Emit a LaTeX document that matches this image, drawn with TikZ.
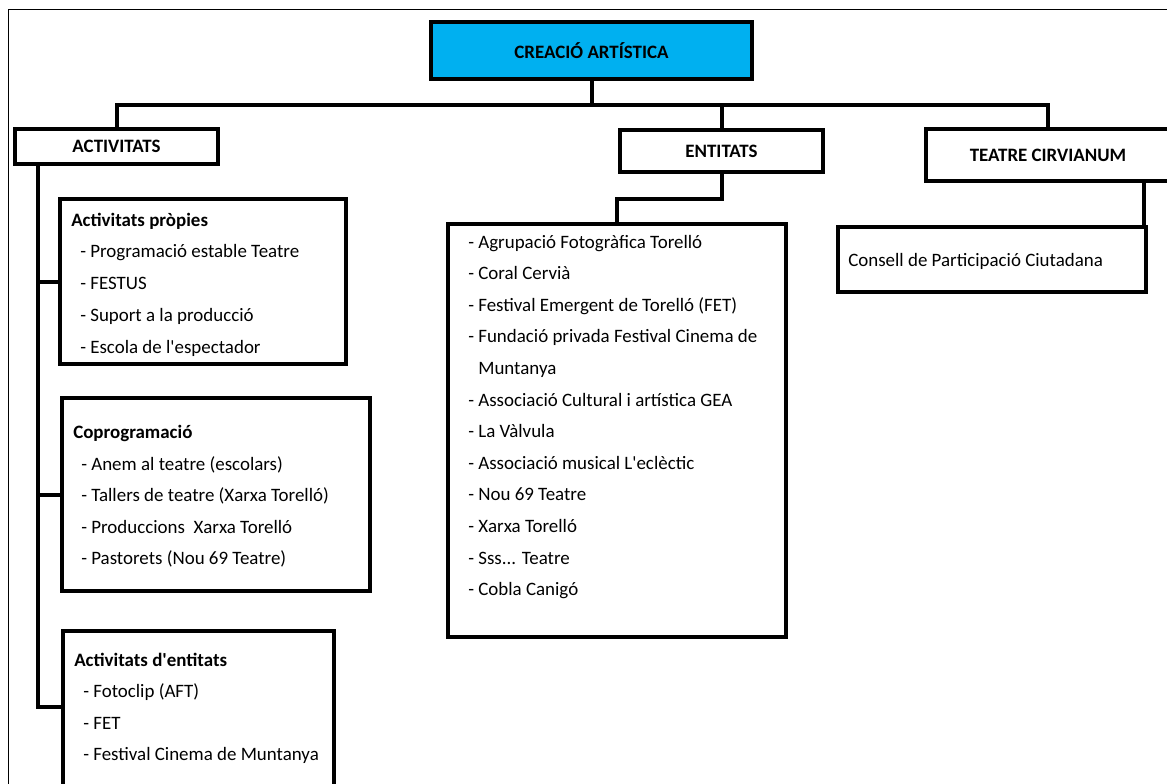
\documentclass[tikz,border=0pt]{standalone}
\usepackage{fontspec}
\setmainfont{Carlito}
\usetikzlibrary{calc, positioning}

\begin{document}
\begin{tikzpicture}[x=0.75pt, y=-0.75pt,
        box/.style={draw, line width=3pt, outer sep=0pt, inner sep=0pt},
        hdr/.style={box, font=\fontsize{14.2pt}{17pt}\selectfont\bfseries},
        conn/.style={line width=3pt},
        item/.style={anchor=base west, inner sep=0pt, font=\fontsize{14.2pt}{17pt}\selectfont},
        ttl/.style={item, font=\fontsize{14.2pt}{17pt}\selectfont\bfseries}]
        % colors
        \definecolor{headBlue}{RGB}{0,176,240}

        \useasboundingbox (0,0) rectangle (1167,783);

        % outer frame
        \draw[line width=0.75pt] (8,800) -- (8,9) -- (1180,9);

        % main boxes
        \node[hdr, fill=headBlue, minimum width=321*0.75pt, minimum height=57*0.75pt] (top) at (591.5,50.5) {CREACIÓ ARTÍSTICA};
        \node[hdr, minimum width=203*0.75pt, minimum height=35*0.75pt] (act) at (116.5,146.5) {ACTIVITATS};
        \node[hdr, minimum width=203*0.75pt, minimum height=42*0.75pt] (ent) at (721.5,151) {ENTITATS};
        \node[hdr, minimum width=244*0.75pt, minimum height=52*0.75pt] (teatre) at (1048,155) {TEATRE CIRVIANUM};

        % list boxes
        \node[box, minimum width=286*0.75pt, minimum height=165*0.75pt] (box1) at (203,281.5) {};
        \node[box, minimum width=308*0.75pt, minimum height=193*0.75pt] (box2) at (216,494.5) {};
        \node[box, minimum width=271*0.75pt, minimum height=175*0.75pt] (box3) at (198.5,718.5) {};
        \node[box, minimum width=338*0.75pt, minimum height=413*0.75pt] (list) at (617,430.5) {};
        \node[box, minimum width=308*0.75pt, minimum height=65*0.75pt] (cons) at (992,259.5) {};

        % connectors
        \coordinate (bus) at (592,105);
        \draw[conn] (top.south) -- (top.south |- bus);
        \draw[conn] (act.north) |- (bus) -| (teatre.north);
        \draw[conn] (ent.north) -- (ent.north |- bus);
        \draw[conn] (ent.south) -- ++(0,27) -| (list.north);
        \coordinate (cpt) at ($(cons.north east)+(-2,0)$);
        \draw[conn] (cpt) -- (cpt |- teatre.south);
        \coordinate (trk) at ($(act.south west)+(23,0)$);
        \draw[conn] (trk) |- ($(box3.north west)+(0,76)$);
        \draw[conn] (trk |- box1.west) -- (box1.west);
        \draw[conn] (trk |- box2.west) -- (box2.west);

        % Activitats propies
        \node[ttl] (t1) at ($(box1.north west)+(11,27)$) {Activitats pròpies};
        \foreach \txt [count=\i from 0] in {Programació estable Teatre, FESTUS, Suport a la producció, Escola de l\textquotesingle espectador}
            \node[item] (a\i) at ($(box1.north west)+(20,58+32*\i)$) {- \txt};

        % Coprogramacio
        \node[ttl] (t2) at ($(box2.north west)+(11,40)$) {Coprogramació};
        \foreach \txt [count=\i from 0] in {Anem al teatre (escolars), Tallers de teatre (Xarxa Torelló), Produccions\ \ Xarxa Torelló, Pastorets (Nou 69 Teatre)}
            \node[item] (c\i) at ($(box2.north west)+(19,72+31.5*\i)$) {- \txt};

        % Activitats d'entitats
        \node[ttl] (t3) at ($(box3.north west)+(11,35)$) {Activitats d\textquotesingle entitats};
        \foreach \txt [count=\i from 0] in {Fotoclip (AFT), FET, Festival Cinema de Muntanya}
            \node[item] (e\i) at ($(box3.north west)+(20,66.5+31.5*\i)$) {- \txt};

        % Entitats
        \foreach \txt [count=\i from 0] in {- Agrupació Fotogràfica Torelló, - Coral Cervià, - Festival Emergent de Torelló (FET), - Fundació privada Festival Cinema de, \phantom{- }Muntanya, - Associació Cultural i artística GEA, - La Vàlvula, - Associació musical L\textquotesingle eclèctic, - Nou 69 Teatre, - Xarxa Torelló, - Sss{...} Teatre, - Cobla Canigó}
            \node[item] (n\i) at ($(list.north west)+(20,24+31.6*\i)$) {\txt};

        % Teatre
        \node[item] (cp) at ($(cons.north west)+(10,39)$) {Consell de Participació Ciutadana};
    \end{tikzpicture}
\end{document}
